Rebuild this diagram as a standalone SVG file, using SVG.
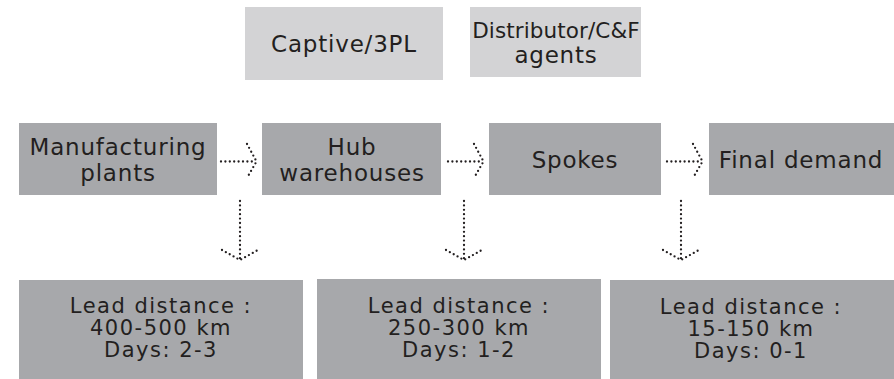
<svg xmlns="http://www.w3.org/2000/svg" width="894" height="379" viewBox="0 0 894 379">
<style>
.light{fill:#d3d3d5}
.dark{fill:#a7a8ab}
text{font-family:"DejaVu Sans","Liberation Sans",sans-serif;font-size:23px;fill:#231f20;text-anchor:middle;letter-spacing:0.8px}
.small{font-size:21px;letter-spacing:1.5px}
.tight{font-size:21.5px;letter-spacing:0.1px}
.dot{fill:none;stroke:#231f20;stroke-width:2.3;stroke-linecap:round;stroke-dasharray:0 4.4}
</style>
<rect width="894" height="379" fill="#ffffff"/>
<g id="captive"><rect class="light" x="245" y="7" width="198" height="73"/><text x="344" y="52">Captive/3PL</text></g>
<g id="distributor"><rect class="light" x="470" y="7" width="171" height="70"/><text class="tight" x="556" y="38">Distributor/C&amp;F</text><text x="556" y="63">agents</text></g>
<g id="manufacturing"><rect class="dark" x="19" y="123" width="198" height="72"/><text x="118" y="155">Manufacturing</text><text x="118" y="181">plants</text></g>
<g id="hub"><rect class="dark" x="262" y="123" width="179" height="72"/><text x="352" y="155">Hub</text><text x="352" y="181">warehouses</text></g>
<g id="spokes"><rect class="dark" x="489" y="123" width="172" height="72"/><text x="575" y="168">Spokes</text></g>
<g id="final"><rect class="dark" x="709" y="123" width="185" height="72"/><text x="801" y="168">Final demand</text></g>
<g id="lead1"><rect class="dark" x="19" y="280" width="284" height="99"/><text class="small" x="161" y="313">Lead distance :</text><text class="small" x="161" y="335">400-500 km</text><text class="small" x="161" y="357">Days: 2-3</text></g>
<g id="lead2"><rect class="dark" x="317" y="279" width="284" height="100"/><text class="small" x="459" y="313">Lead distance :</text><text class="small" x="459" y="335">250-300 km</text><text class="small" x="459" y="357">Days: 1-2</text></g>
<g id="lead3"><rect class="dark" x="610" y="280" width="284" height="99"/><text class="small" x="751" y="314">Lead distance :</text><text class="small" x="751" y="336">15-150 km</text><text class="small" x="751" y="358">Days: 0-1</text></g>
<g id="connectors">
<path class="dot" d="M221 161.5H256M247 144L256.5 161.5L247 178"/>
<path class="dot" d="M448 161.5H483M474 144L483.5 161.5L474 178"/>
<path class="dot" d="M667 161.5H702M693 144L702.5 161.5L693 178"/>
<path class="dot" d="M240 201V259M222 250L240 260L258 250"/>
<path class="dot" d="M464 201V259M446 250L464 260L482 250"/>
<path class="dot" d="M681 201V259M663 250L681 260L699 250"/>
</g>
</svg>
